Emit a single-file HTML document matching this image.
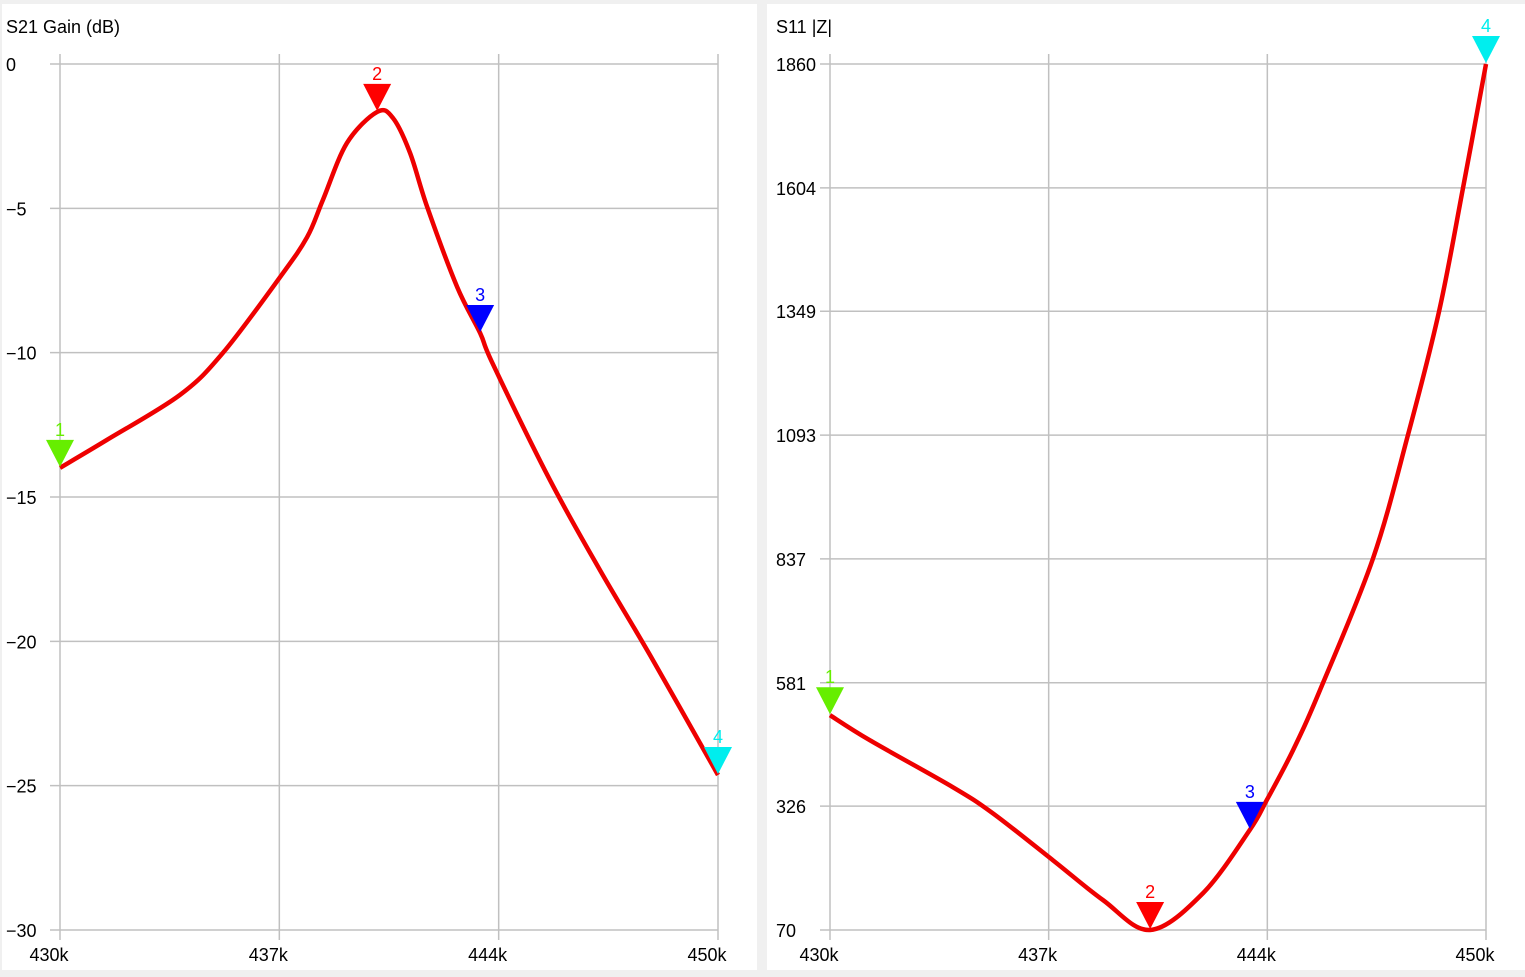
<!DOCTYPE html>
<html><head><meta charset="utf-8"><style>
html,body{margin:0;padding:0;background:#f0f0f0;}
svg{display:block;font-family:"Liberation Sans","Noto Sans CJK JP",sans-serif;}
</style></head><body>
<svg id="c" width="1525" height="977" xmlns="http://www.w3.org/2000/svg">
<rect x="0" y="0" width="1525" height="977" fill="#f0f0f0"/>
<rect x="2" y="4" width="755" height="966" fill="#fff"/>
<rect x="767" y="4" width="758" height="966" fill="#fff"/>
</svg>
<script>
const leftFreq=[430,431.43,433.65,434.95,436.69,437.51,437.99,438.72,439.64,440.12,440.64,441.16,442.07,442.77,443.16,444.89,446.41,447.93,450];
const leftDb=[-13.99,-13.02,-11.46,-10.01,-7.38,-6.0,-4.71,-2.74,-1.66,-1.87,-3.08,-4.95,-7.72,-9.32,-10.4,-14.41,-17.53,-20.47,-24.63];
const rightFreq=[430,431.22,433.75,434.97,436.80,438.32,439.76,441.37,442.80,443.32,444.12,444.94,446.55,447.62,448.57,449.30,450];
const rightZ=[514,462,365,311,214,132,70,146,277,339,442,566,837,1093,1349,1604,1860];
const xTickLabels=["430k","437k","444k","450k"];
const leftYTicks=[0,-5,-10,-15,-20,-25,-30];
const rightYTicks=[1860,1604,1349,1093,837,581,326,70];
const leftMarkerIdx=[0,8,13,18];
const rightMarkerIdx=[0,6,8,16];
const markerColors=["#66ee00","#ff0000","#0000ff","#00eeee"];
const svg=document.getElementById('c');
const NS="http://www.w3.org/2000/svg";
function mk(t,a,p){const e=document.createElementNS(NS,t);for(const k in a)e.setAttribute(k,a[k]);(p||svg).appendChild(e);return e;}
function smooth(pts){
  let d='M'+pts[0][0]+','+pts[0][1];
  for(let i=0;i<pts.length-1;i++){
    const p0=pts[i-1]||pts[i],p1=pts[i],p2=pts[i+1],p3=pts[i+2]||p2;
    const c1=[p1[0]+(p2[0]-p0[0])/6,p1[1]+(p2[1]-p0[1])/6];
    const c2=[p2[0]-(p3[0]-p1[0])/6,p2[1]-(p3[1]-p1[1])/6];
    d+=` C${c1[0]},${c1[1]} ${c2[0]},${c2[1]} ${p2[0]},${p2[1]}`;
  }
  return d;
}
function panel(x0,x1,y0,y1,ymin,ymax,yticks,title,fx,fy,midx,tx){
  const X=f=>x0+(f-430)/20*(x1-x0);
  const Y=v=>y1-(v-ymin)/(ymax-ymin)*(y1-y0);
  const t=mk('text',{x:tx,y:33,'font-size':18,fill:'#000'});t.textContent=title;
  
  
  yticks.forEach(v=>{
    const l=mk('line',{x1:x0-10,x2:x1,y1:Y(v),y2:Y(v),stroke:'#c0c0c0','stroke-width':1.5});
    
    
    const tt=mk('text',{x:tx,y:Y(v)+7,'font-size':18,fill:'#000'});tt.textContent=v<0?'\u2212'+(-v):v;
    
    
  });
  xTickLabels.forEach((s,i)=>{
    const gx=x0+i*(x1-x0)/3;
    const l=mk('line',{x1:gx,x2:gx,y1:y0-10,y2:y1+10,stroke:'#c0c0c0','stroke-width':1.5});
    
    
    const tt=mk('text',{x:gx-11,y:y1+31,'font-size':18,fill:'#000','text-anchor':'middle'});tt.textContent=s;
    
    
  });
  const pts=fx.map((f,i)=>[X(f),Y(fy[i])]);
  const p=mk('path',{d:smooth(pts),fill:'none',stroke:'#ee0000','stroke-width':4.5,'stroke-linejoin':'round'});
  
  
  midx.forEach((ix,k)=>{
    const mx=X(fx[ix]),my=Y(fy[ix]);
    const tri=mk('polygon',{points:`${mx-14},${my-28} ${mx+14},${my-28} ${mx},${my-1}`,fill:markerColors[k]});
    
    
    const lb=mk('text',{x:mx,y:my-32,'font-size':18,fill:markerColors[k],'text-anchor':'middle'});lb.textContent=k+1;
    
    
  });
}
panel(60,718,64,930,-30,0,leftYTicks,'S21 Gain (dB)',leftFreq,leftDb,leftMarkerIdx,6);
panel(830,1486,64,930,70,1860,rightYTicks,'S11 |Z|',rightFreq,rightZ,rightMarkerIdx,776);
</script>
</body></html>
